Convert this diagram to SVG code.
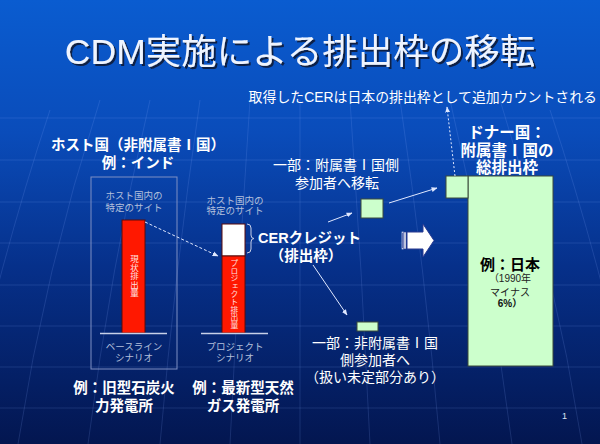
<svg xmlns="http://www.w3.org/2000/svg" width="600" height="444" viewBox="0 0 600 444">
<defs>
<linearGradient id="bg" x1="0" y1="0" x2="0" y2="1">
<stop offset="0" stop-color="#0a5cd0"/>
<stop offset="0.3" stop-color="#0a4cba"/>
<stop offset="0.6" stop-color="#06308a"/>
<stop offset="1" stop-color="#031650"/>
</linearGradient>
<filter id="sh" x="-5%" y="-20%" width="110%" height="150%">
<feDropShadow dx="2" dy="2" stdDeviation="0.6" flood-color="#0a1a40" flood-opacity="0.95"/>
</filter>
<marker id="ah" viewBox="0 0 10 10" refX="9" refY="5" markerWidth="6" markerHeight="6" orient="auto" markerUnits="userSpaceOnUse">
<path d="M0,1 L10,5 L0,9 Z" fill="#e0e8ff"/>
</marker>
<style>
.t{font-family:"Liberation Sans","Noto Sans CJK JP",sans-serif;fill:#ffffff}
.b{font-weight:bold}
.c{text-anchor:middle}
.s{font-size:9.5px;fill:#b4c0dc}
.h{font-size:14.5px;font-weight:bold}
.m{font-size:14px}
.grid{stroke:#8cb0ff;stroke-width:1;fill:none;opacity:0.16}
.grn{fill:#ccffcc;stroke:#3a4a3a;stroke-width:1}
.red{fill:#ff1800;stroke:#5a0a0a;stroke-width:1}
.ln{stroke:#e0e8ff;stroke-width:1;fill:none}
.vt{font-size:8.5px;fill:#ffe0e0;writing-mode:vertical-rl;letter-spacing:0}
</style>
</defs>
<rect width="600" height="444" fill="url(#bg)"/>
<g id="background-grid">
<path class="grid" d="M0,118 H600 M0,160 H600 M0,202 H600 M0,243 H600 M0,285 H600 M0,326 H600 M0,367 H600 M0,408 H600"/>
<path class="grid" d="M300,100 V444"/>
<path class="grid" d="M250,100 Q238,270 230,444 M200,100 Q175,270 160,444 M150,100 Q110,270 88,444 M100,100 Q45,270 18,444 M50,110 Q0,260 -40,444"/>
<path class="grid" d="M350,100 Q362,270 370,444 M400,100 Q425,270 440,444 M450,100 Q490,270 512,444 M500,100 Q555,270 582,444 M550,110 Q600,260 640,444"/>
</g>
<g id="title">
<text class="t" x="300" y="64" font-size="35.5" text-anchor="middle" filter="url(#sh)" style="fill:#eef4ff">CDM実施による排出枠の移転</text>
</g>
<g id="note">
<text class="t" x="597" y="102" font-size="13.9" text-anchor="end">取得したCERは日本の排出枠として追加カウントされる</text>
</g>
<g id="host-label">
<text class="t h c" x="138" y="150">ホスト国（非附属書Ⅰ国）</text>
<text class="t h c" x="138" y="168">例：インド</text>
</g>
<g id="baseline-site">
<rect x="91" y="177" width="86" height="192" fill="none" stroke="#7f90c4" stroke-width="1"/>
<text class="t s c" x="134" y="199">ホスト国内の</text>
<text class="t s c" x="134" y="211">特定のサイト</text>
<rect class="red" x="122" y="220" width="23" height="113"/>
<text class="t vt" x="133.5" y="255">現状排出量</text>
<line x1="100" y1="333.5" x2="167" y2="333.5" stroke="#c8d0e8" stroke-width="1.5"/>
<text class="t s c" x="134" y="350">ベースライン</text>
<text class="t s c" x="134" y="361">シナリオ</text>
</g>
<g id="project-site">
<text class="t s c" x="235" y="204">ホスト国内の</text>
<text class="t s c" x="235" y="214">特定のサイト</text>
<rect x="222" y="224" width="23" height="32" fill="#ffffff" stroke="#5a0a0a" stroke-width="1"/>
<rect class="red" x="222" y="256" width="23" height="77"/>
<text class="t vt" x="233.5" y="259" style="font-size:7.8px">プロジェクト排出量</text>
<line x1="201" y1="333.5" x2="268" y2="333.5" stroke="#c8d0e8" stroke-width="1.5"/>
<text class="t s c" x="235" y="350">プロジェクト</text>
<text class="t s c" x="235" y="361">シナリオ</text>
<path d="M247,224 Q251,224 251,228 V235 Q251,238.5 254,238.5 Q251,238.5 251,242 V249 Q251,253 247,253" fill="none" stroke="#c8d0e8" stroke-width="1"/>
</g>
<g id="examples">
<text class="t h c" x="124" y="393">例：旧型石炭火</text>
<text class="t h c" x="124" y="411">力発電所</text>
<text class="t h c" x="243" y="393">例：最新型天然</text>
<text class="t h c" x="243" y="411">ガス発電所</text>
</g>
<g id="cer-label">
<text class="t h" x="258" y="243">CERクレジット</text>
<text class="t h c" x="306" y="261">（排出枠）</text>
</g>
<g id="annex1-part">
<text class="t m c" x="336" y="170">一部：附属書Ⅰ国側</text>
<text class="t m c" x="337" y="188">参加者へ移転</text>
<rect class="grn" x="361" y="199" width="22" height="19"/>
</g>
<g id="nonannex-part">
<rect class="grn" x="357" y="322" width="21" height="9"/>
<text class="t m c" x="375" y="348">一部：非附属書Ⅰ国</text>
<text class="t m c" x="375" y="365">側参加者へ</text>
<text class="t m c" x="375" y="382">（扱い未定部分あり）</text>
</g>
<g id="donor">
<text class="t b c" x="507" y="138" font-size="15.5">ドナー国：</text>
<text class="t b c" x="507" y="156" font-size="15.5">附属書Ⅰ国の</text>
<text class="t b c" x="507" y="173" font-size="15.5">総排出枠</text>
<rect class="grn" x="468" y="176" width="85" height="190"/>
<rect class="grn" x="446" y="176" width="22" height="22"/>
<text class="t b c" x="510" y="270" font-size="15" style="fill:#000">例：日本</text>
<text class="t c" x="510" y="282" font-size="10" style="fill:#222">（1990年</text>
<text class="t c" x="510" y="296" font-size="10" style="fill:#222">マイナス</text>
<text class="t b c" x="510" y="307" font-size="10" style="fill:#111">6%）</text>
</g>
<g id="connectors">
<line class="ln" x1="145" y1="222" x2="218" y2="256" stroke-dasharray="3,2" marker-end="url(#ah)"/>
<line class="ln" x1="328" y1="222" x2="352" y2="213" marker-end="url(#ah)"/>
<line class="ln" x1="389" y1="203" x2="437" y2="188" marker-end="url(#ah)"/>
<line class="ln" x1="313" y1="265" x2="347" y2="315" marker-end="url(#ah)"/>
<line class="ln" x1="455" y1="176" x2="447" y2="107" stroke-dasharray="2,2" marker-end="url(#ah)"/>
<g id="block-arrow">
<rect x="402" y="232" width="1.6" height="17" fill="#2a3a90" stroke="#e8eeff" stroke-width="0.6"/>
<rect x="404" y="232" width="2" height="17" fill="#ffffff" stroke="#2a3a90" stroke-width="0.6"/>
<path d="M407,232 H423 V224 L434,240.5 L423,257 V249 H407 Z" fill="#ffffff" stroke="#2a3a90" stroke-width="1"/>
</g>
</g>
<text class="t" x="562" y="419" font-size="9" style="fill:#dde4f4">1</text>
</svg>
